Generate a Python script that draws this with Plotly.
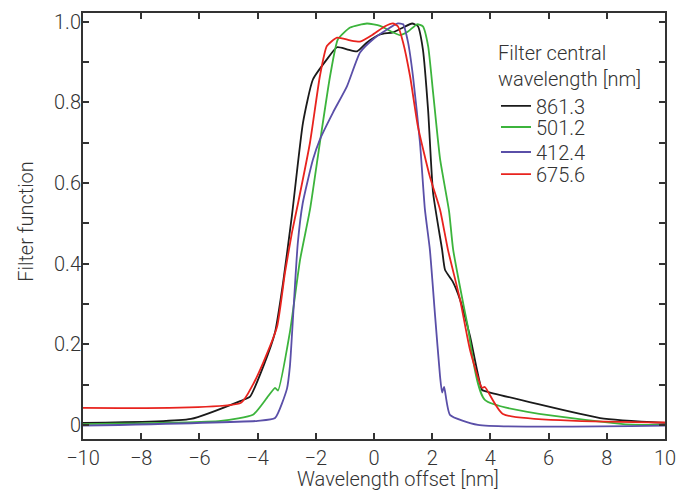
import plotly.graph_objects as go

# ---- data ----
x_861 = [-10, -6.29, -4.57, -4.26, -3.81, -3.40, -3.13, -2.82, -2.44, -2.10, -1.62, -1.27, -0.93, -0.58, -0.24,
         0.21, 0.65, 1.0, 1.31, 1.51, 1.68, 1.86, 2.03, 2.34, 2.44, 2.71, 2.96, 3.30, 3.71, 3.81, 7.77, 10]
y_861 = [0.005, 0.015, 0.06, 0.07, 0.144, 0.23, 0.35, 0.52, 0.75, 0.857, 0.907, 0.937, 0.932, 0.927, 0.949,
         0.969, 0.974, 0.986, 0.996, 0.989, 0.932, 0.78, 0.576, 0.435, 0.385, 0.355, 0.31, 0.22, 0.087, 0.084, 0.017, 0.005]

x_501 = [-10, -5.26, -4.16, -3.68, -3.40, -3.30, -2.89, -2.54, -2.20, -1.86, -1.51, -1.24, -0.82, -0.24, 0.21,
         0.65, 0.89, 1.17, 1.48, 1.68, 1.86, 2.03, 2.27, 2.58, 2.72, 3.20, 3.81, 8.56, 10]
y_501 = [0.002, 0.01, 0.025, 0.067, 0.092, 0.085, 0.23, 0.41, 0.534, 0.70, 0.865, 0.957, 0.986, 0.996, 0.99,
         0.974, 0.967, 0.976, 0.994, 0.989, 0.94, 0.825, 0.66, 0.53, 0.435, 0.253, 0.062, 0.002, 0.0]

x_412 = [-10, -3.99, -3.40, -2.99, -2.89, -2.78, -2.62, -2.45, -2.10, -1.86, -1.41, -0.93, -0.48, -0.03, 0.45,
         0.82, 1.0, 1.17, 1.34, 1.58, 1.75, 1.92, 2.10, 2.27, 2.34, 2.41, 2.61, 3.57, 10]
y_412 = [-0.002, 0.01, 0.017, 0.09, 0.145, 0.27, 0.45, 0.55, 0.658, 0.708, 0.775, 0.84, 0.924, 0.957, 0.981,
         0.996, 0.994, 0.949, 0.865, 0.70, 0.534, 0.435, 0.27, 0.12, 0.08, 0.094, 0.025, 0.0, -0.002]

x_675 = [-10, -4.57, -4.16, -3.81, -3.33, -3.06, -2.82, -2.61, -2.20, -1.86, -1.62, -1.27, -0.82, -0.48, -0.03,
         0.38, 0.65, 0.82, 1.0, 1.24, 1.51, 1.92, 2.27, 2.54, 2.96, 3.30, 3.71, 3.81, 4.43, 10]
y_675 = [0.042, 0.055, 0.1, 0.154, 0.244, 0.377, 0.477, 0.55, 0.70, 0.865, 0.94, 0.961, 0.954, 0.951, 0.969,
         0.989, 0.996, 0.989, 0.949, 0.865, 0.74, 0.616, 0.534, 0.435, 0.31, 0.186, 0.092, 0.094, 0.027, 0.006]

series_names = ["861.3", "501.2", "412.4", "675.6"]
series_colors = ["#1a1a1a", "#3cb43c", "#5a4fa8", "#e8231e"]

x_tickvals = [-10, -8, -6, -4, -2, 0, 2, 4, 6, 8, 10]
y_tickvals = [0, 0.1, 0.2, 0.3, 0.4, 0.5, 0.6, 0.7, 0.8, 0.9, 1.0]
y_ticktext = ["0", "", "0.2", "", "0.4", "", "0.6", "", "0.8", "", "1.0"]

x_title = "Wavelength offset [nm]"
y_title = "Filter function"
legend_title = "Filter central<br>wavelength [nm]"

font_family = "Roboto, Liberation Sans, Arial, sans-serif"
fw = 300
txt = "#333333"

legend_ids = ["legend", "legend2", "legend3", "legend4"]

fig = go.Figure()
for xs, ys, name, col, lg in zip([x_861, x_501, x_412, x_675], [y_861, y_501, y_412, y_675],
                                 series_names, series_colors, legend_ids):
    fig.add_trace(go.Scatter(x=xs, y=ys, mode="lines", name=name, legend=lg,
                             line=dict(color=col, width=1.8, shape="spline", smoothing=0.5)))

axis_common = dict(showgrid=False, zeroline=False, showline=True, linecolor="#333333", linewidth=2,
                   mirror="ticks", ticks="inside", ticklen=6, tickwidth=1.5, tickcolor="#333333",
                   automargin=False,
                   tickfont=dict(size=20, color=txt, family=font_family, weight=fw))

fig.update_xaxes(range=[-10, 10], tickvals=x_tickvals, ticklabelstandoff=0, **axis_common)
fig.update_yaxes(range=[-0.035, 1.022], tickvals=y_tickvals, ticktext=y_ticktext, ticklabelstandoff=-4,
                 **axis_common)

fig.add_annotation(text=x_title, xref="paper", yref="paper", x=0.541, y=-0.0939,
                   xanchor="center", yanchor="middle", showarrow=False,
                   font=dict(size=20, color=txt, family=font_family, weight=fw))
fig.add_annotation(text=y_title, xref="paper", yref="paper", x=-0.098, y=0.512, textangle=-90,
                   xanchor="center", yanchor="middle", showarrow=False,
                   font=dict(size=20, color=txt, family=font_family, weight=fw))

leg_font = dict(size=20, color=txt, family=font_family, weight=fw)
leg_common = dict(xanchor="left", font=leg_font,
                  bgcolor="rgba(0,0,0,0)", itemwidth=30, x=0.7096)

fig.update_layout(
    width=678, height=484,
    margin=dict(l=75, r=21, t=5, b=53),
    plot_bgcolor="white", paper_bgcolor="white",
    font=dict(family=font_family, size=20, color=txt, weight=fw),
    legend=dict(y=0.95, yanchor="top",
                title=dict(text=legend_title, font=leg_font),
                **leg_common),
    legend2=dict(y=0.7324, yanchor="middle", **leg_common),
    legend3=dict(y=0.6737, yanchor="middle", **leg_common),
    legend4=dict(y=0.622, yanchor="middle", **leg_common),
    showlegend=True,
)

fig.write_html("out.html")
